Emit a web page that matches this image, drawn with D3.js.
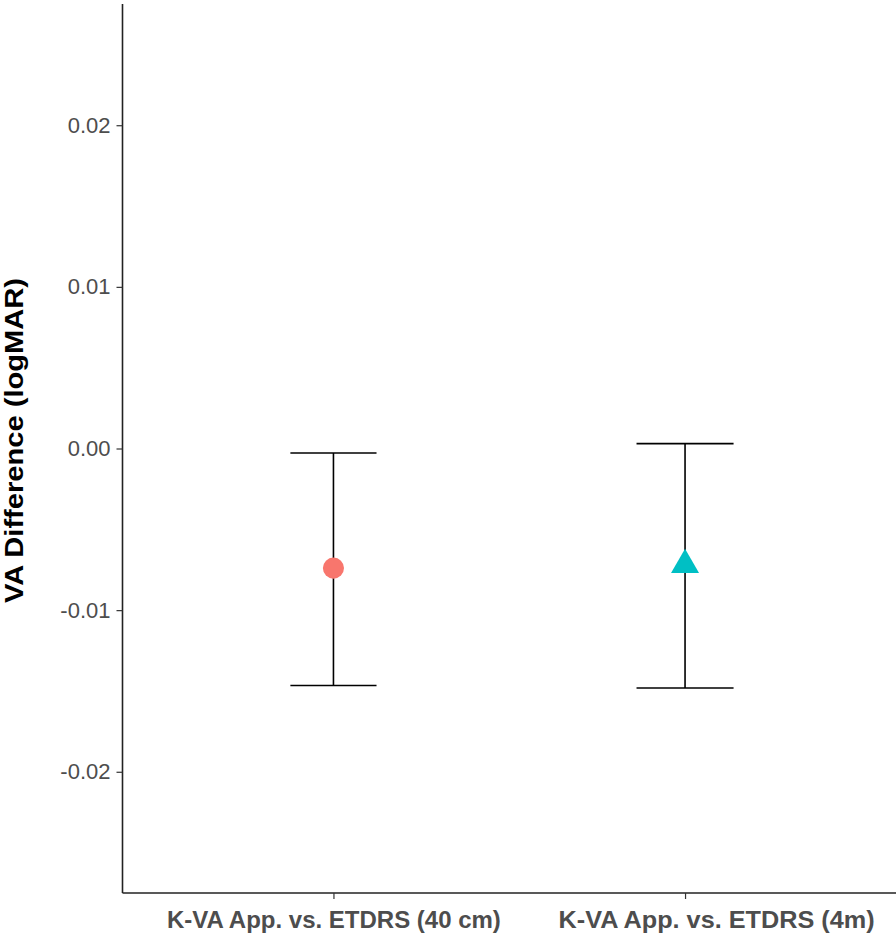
<!DOCTYPE html>
<html>
<head>
<meta charset="utf-8">
<script src="https://cdn.jsdelivr.net/npm/d3@7"></script>
<style>
  body { margin: 0; background: #fff; }
  text { font-family: "Liberation Sans", Arial, sans-serif; }
</style>
</head>
<body>
<div id="viz"></div>
<script>
  var categories = ["K-VA App. vs. ETDRS (40 cm)", "K-VA App. vs. ETDRS (4m)"];
  var meanDiff = [-0.0074, -0.0072];
  var lowerCI = [-0.01466, -0.01482];
  var upperCI = [-0.00028, 0.0003];
  var capWidth = [0.245, 0.276];
  var yTicks = [0.02, 0.01, 0.00, -0.01, -0.02];
  var yTickLabels = ["0.02", "0.01", "0.00", "-0.01", "-0.02"];
  var colors = ["#F8766D", "#00BFC4"];
  var shapes = [d3.symbolCircle, d3.symbolTriangle];

  var W = 896, H = 941;
  // note: "top" is reserved on window, so use plot* names
  var plotLeft = 122.5, plotRight = 896, plotTop = 4, plotBottom = 893;

  var svg = d3.select("#viz").append("svg")
    .attr("width", W)
    .attr("height", H);

  // discrete x axis, ggplot style 0.6 expansion
  var x = d3.scaleLinear().domain([0.4, 2.6]).range([plotLeft, plotRight]);
  var y = d3.scaleLinear().domain([-0.0275, 0.0275]).range([plotBottom, plotTop]);

  var rows = categories.map(function (c, i) {
    return { cat: c, i: i + 1, mean: meanDiff[i], lo: lowerCI[i], hi: upperCI[i], w: capWidth[i] };
  });

  // y axis
  var yAxis = svg.append("g").attr("transform", "translate(" + plotLeft + ",0)")
    .call(d3.axisLeft(y).tickValues(yTicks).tickSize(6).tickPadding(6)
      .tickFormat(function (d, i) { return yTickLabels[i]; }));
  yAxis.select(".domain").attr("d", "M0," + plotTop + "V" + plotBottom).attr("stroke", "#222").attr("stroke-width", 1.6);
  yAxis.selectAll(".tick line").attr("stroke", "#333").attr("stroke-width", 1.2);
  yAxis.selectAll(".tick text").attr("font-size", 22).attr("fill", "#4d4d4d")
    .attr("font-family", "'Liberation Sans', Arial, sans-serif");

  // x axis
  var xAxis = svg.append("g").attr("transform", "translate(0," + plotBottom + ")")
    .call(d3.axisBottom(x).tickValues([1, 2]).tickSize(6).tickPadding(12)
      .tickFormat(function (d) { return categories[d - 1]; }));
  xAxis.select(".domain").attr("d", "M" + plotLeft + ",0H" + plotRight).attr("stroke", "#222").attr("stroke-width", 1.6);
  xAxis.selectAll(".tick line").attr("stroke", "#333").attr("stroke-width", 1.2);
  xAxis.selectAll(".tick text").attr("font-size", 24).attr("font-weight", "bold").attr("fill", "#4d4d4d")
    .attr("font-family", "'Liberation Sans', Arial, sans-serif");
  // the second label sits a bit wider and to the right in the original
  xAxis.selectAll(".tick text").filter(function (d) { return d === 2; })
    .attr("dx", 31)
    .attr("textLength", 316)
    .attr("lengthAdjust", "spacingAndGlyphs");

  // y title
  svg.append("text")
    .attr("transform", "translate(23,440.5) rotate(-90)")
    .attr("text-anchor", "middle")
    .attr("font-size", 25)
    .attr("font-weight", "bold")
    .attr("textLength", 325)
    .attr("lengthAdjust", "spacingAndGlyphs")
    .text("VA Difference (logMAR)");

  // error bars
  var bars = svg.append("g").attr("stroke", "#000").attr("stroke-width", 1.6).attr("fill", "none");
  bars.selectAll("line.stem").data(rows).enter().append("line")
    .attr("class", "stem")
    .attr("x1", function (d) { return x(d.i); })
    .attr("x2", function (d) { return x(d.i); })
    .attr("y1", function (d) { return y(d.hi); })
    .attr("y2", function (d) { return y(d.lo); });
  bars.selectAll("line.capHi").data(rows).enter().append("line")
    .attr("class", "capHi")
    .attr("x1", function (d) { return x(d.i - d.w / 2); })
    .attr("x2", function (d) { return x(d.i + d.w / 2); })
    .attr("y1", function (d) { return y(d.hi); })
    .attr("y2", function (d) { return y(d.hi); });
  bars.selectAll("line.capLo").data(rows).enter().append("line")
    .attr("class", "capLo")
    .attr("x1", function (d) { return x(d.i - d.w / 2); })
    .attr("x2", function (d) { return x(d.i + d.w / 2); })
    .attr("y1", function (d) { return y(d.lo); })
    .attr("y2", function (d) { return y(d.lo); });

  // points
  svg.selectAll("path.pt").data(rows).enter().append("path")
    .attr("class", "pt")
    .attr("transform", function (d) { return "translate(" + x(d.i) + "," + y(d.mean) + ")"; })
    .attr("d", function (d, i) { return d3.symbol().type(shapes[i]).size(i === 0 ? 350 : 340)(); })
    .style("fill", function (d, i) { return colors[i]; });
</script>
</body>
</html>
